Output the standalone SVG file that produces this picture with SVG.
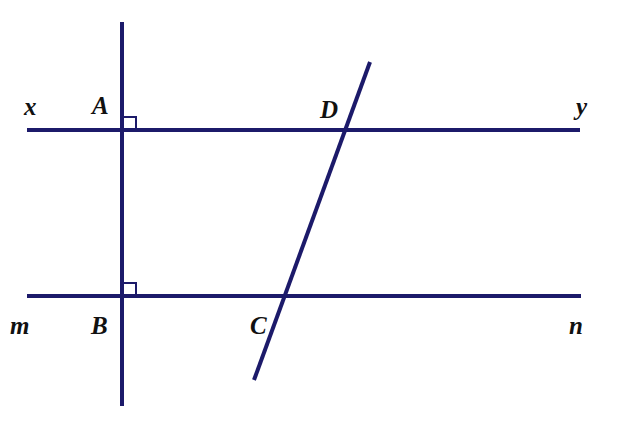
<svg xmlns="http://www.w3.org/2000/svg" width="630" height="423" viewBox="0 0 630 423">
<style>
.ln{stroke:#1c1a6a;stroke-width:4;fill:none;stroke-linecap:butt}
.sq{stroke:#1c1a6a;stroke-width:2;fill:none}
.lb{font-family:"Liberation Serif",serif;font-style:italic;font-weight:bold;font-size:25px;fill:#111}
</style>
<rect width="630" height="423" fill="#fff"/>
<g id="connectors">
<line id="xy" class="ln" x1="27" y1="130" x2="580" y2="130"/>
<line id="mn" class="ln" x1="27" y1="296" x2="581" y2="296"/>
<line id="AB" class="ln" x1="122" y1="22" x2="122" y2="406"/>
<line id="DC" class="ln" x1="370" y1="62" x2="254" y2="380"/>
</g>
<g id="rightA"><polyline class="sq" points="124,117 136,117 136,129"/></g>
<g id="rightB"><polyline class="sq" points="124,283 136,283 136,295"/></g>
<g id="labels">
<text class="lb" x="24" y="115">x</text>
<text class="lb" x="92" y="114">A</text>
<text class="lb" x="320" y="118">D</text>
<text class="lb" x="576" y="115">y</text>
<text class="lb" x="10" y="334">m</text>
<text class="lb" x="91" y="334">B</text>
<text class="lb" x="250" y="334">C</text>
<text class="lb" x="569" y="334">n</text>
</g>
</svg>
